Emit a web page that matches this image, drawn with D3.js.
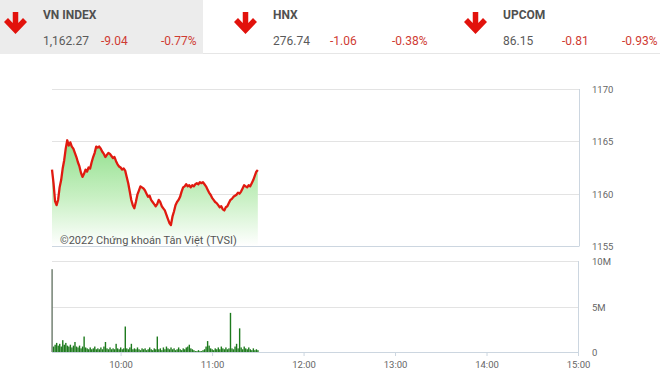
<!DOCTYPE html>
<html><head><meta charset="utf-8">
<script src="https://cdn.jsdelivr.net/npm/d3@7"></script>
<style>
html,body{margin:0;padding:0;background:#fff;}
svg{display:block;font-family:Roboto,"Noto Sans",sans-serif;}
</style></head>
<body><svg id="c" width="660" height="383"></svg>
<script>
// ---- data ----
const indexNames = ["VN INDEX","HNX","UPCOM"];
const indexLast = ["1,162.27","276.74","86.15"];
const indexChange = ["-9.04","-1.06","-0.81"];
const indexPct = ["-0.77%","-0.38%","-0.93%"];

const startTime = "9:15";           // first minute of the session shown
const priceValues = [
1162.3,1161.0,1159.3,1158.9,1159.4,1160.6,1161.3,1162.4,1163.2,1164.3,
1165.1,1164.6,1164.9,1164.5,1164.3,1163.9,1163.5,1163.0,1162.6,1162.0,
1161.6,1161.9,1162.3,1162.1,1162.5,1162.4,1163.0,1163.5,1163.9,1164.5,
1164.4,1164.5,1164.3,1164.0,1163.8,1163.5,1163.7,1163.9,1163.8,1163.6,
1163.4,1163.5,1163.1,1162.8,1162.6,1162.5,1162.3,1162.4,1162.2,1161.6,
1161.0,1160.2,1159.4,1158.9,1158.6,1159.2,1159.9,1160.3,1160.7,1160.6,
1160.5,1160.3,1160.0,1159.7,1159.8,1159.4,1159.2,1159.0,1158.8,1159.0,
1159.4,1159.2,1158.8,1158.6,1158.4,1158.0,1157.6,1157.2,1157.0,1157.8,
1158.3,1158.9,1159.2,1159.4,1159.7,1160.2,1160.6,1160.7,1160.9,1160.7,
1160.8,1160.6,1160.8,1160.7,1160.9,1161.0,1160.9,1161.1,1161.0,1161.1,
1160.9,1160.7,1160.4,1160.1,1159.9,1159.6,1159.4,1159.2,1159.1,1158.9,
1158.7,1158.8,1158.5,1158.4,1158.7,1158.8,1159.1,1159.4,1159.5,1159.7,
1159.8,1159.9,1160.1,1160.0,1160.2,1160.5,1160.8,1160.7,1160.6,1160.8,
1160.7,1161.0,1161.3,1161.7,1162.1,1162.27];
const volumeValues = [ // millions of shares per minute
9.1,0.6,0.8,1.0,0.7,0.9,0.6,1.3,0.8,1.0,
0.7,0.6,0.8,0.5,0.7,1.1,0.6,0.5,0.7,0.4,
0.6,1.7,0.5,0.4,0.3,0.5,0.3,0.4,0.6,0.3,
0.4,0.3,0.5,0.3,0.6,1.1,0.4,0.3,0.5,0.3,
0.4,0.3,0.9,0.4,0.3,0.5,0.3,0.4,2.8,0.4,
0.3,0.5,0.9,0.3,0.4,0.3,0.5,0.3,0.2,0.4,
0.3,0.4,0.2,0.3,0.5,0.3,0.2,0.4,0.3,1.7,
0.3,0.4,0.2,0.5,0.3,0.6,0.4,0.3,0.5,0.3,
0.4,0.2,0.3,0.5,0.3,0.2,0.4,0.3,0.5,0.6,
0.8,0.4,0.3,0.2,0.1,0.1,0.2,0.1,0.1,0.2,
0.3,0.6,1.2,0.7,0.4,0.3,0.2,0.4,0.3,0.5,
0.3,0.6,0.4,0.3,0.5,0.3,0.4,4.3,0.4,0.3,
0.6,0.9,0.4,2.6,0.5,0.3,0.6,0.4,0.3,0.5,
0.3,0.2,0.4,0.2,0.3,0.2];
const priceTicks = [1155,1160,1165,1170];
const volumeTicks = [0,5,10];
const volumeTickLabels = ["0","5M","10M"];
const timeTicks = ["10:00","11:00","12:00","13:00","14:00","15:00"];
const sessionRange = ["9:15","15:00"];

// ---- helpers ----
const toMin = s => { const [h,m] = s.split(":").map(Number); return h*60+m; };
const t0 = toMin(startTime);
const times = priceValues.map((_,i)=>t0+i);

const svg = d3.select("#c");

// ---- header ----
svg.append("rect").attr("x",0).attr("y",0).attr("width",203).attr("height",54).attr("fill","#ececec");
svg.append("line").attr("x1",203).attr("x2",660).attr("y1",53.5).attr("y2",53.5).attr("stroke","#e6e6e6");
const arrowX = [15.5,245.5,475.5];
const titleX = [43,273,503];
const chgX = [101,330,562];
const pctX = [161,392,622];
indexNames.forEach((n,i)=>{
  const g = svg.append("g");
  const ax = arrowX[i];
  g.append("path")
    .attr("d",`M${ax},12 L${ax},29 M${ax-9.5},20 L${ax},30 L${ax+9.5},20`)
    .attr("stroke","#e2120c").attr("stroke-width",5.5).attr("fill","none")
    .attr("stroke-linejoin","miter");
  g.append("text").attr("x",titleX[i]).attr("y",19).attr("font-size",12).attr("font-weight","bold")
    .attr("fill","#505050").attr("textLength", null).text(n);
  g.append("text").attr("x",titleX[i]).attr("y",45).attr("font-size",12).attr("fill","#5a5a5a").text(indexLast[i]);
  g.append("text").attr("x",chgX[i]).attr("y",45).attr("font-size",12).attr("fill","#cf3b33").text(indexChange[i]);
  g.append("text").attr("x",pctX[i]).attr("y",45).attr("font-size",12).attr("fill","#cf3b33").text(indexPct[i]);
});

// ---- scales ----
const x = d3.scaleLinear().domain(sessionRange.map(toMin)).range([52,578]);
const yP = d3.scaleLinear().domain([1155,1170]).range([246,89]);
const yV = d3.scaleLinear().domain([0,10]).range([352,261]);

const gridC = "#e3e3e3", borderC = "#ccd6e0", labC = "#666";

// price grid
priceTicks.forEach(v=>{
  svg.append("line").attr("x1",52).attr("x2",579).attr("y1",Math.round(yP(v))+0.5).attr("y2",Math.round(yP(v))+0.5)
    .attr("stroke", v===1155 ? borderC : gridC);
});
svg.append("line").attr("x1",579.5).attr("x2",579.5).attr("y1",yP(1170)).attr("y2",yP(1155)+0.5).attr("stroke",borderC);
priceTicks.forEach(v=>{
  svg.append("text").attr("x",592).attr("y",yP(v)+4).attr("font-size",9.5).attr("fill",labC).text(v);
});

// price area + line
const defs = svg.append("defs");
const grad = defs.append("linearGradient").attr("id","gf").attr("gradientUnits","userSpaceOnUse")
  .attr("x1",0).attr("x2",0).attr("y1",yP(1165.2)).attr("y2",yP(1155));
grad.append("stop").attr("offset",0).attr("stop-color","#8fdf8a");
grad.append("stop").attr("offset",0.55).attr("stop-color","#c9f0c4");
grad.append("stop").attr("offset",1).attr("stop-color","#ffffff");
const pts = priceValues.map((v,i)=>[times[i],v]);
svg.append("path").datum(pts)
  .attr("d",d3.area().x(d=>x(d[0])).y0(yP(1155)).y1(d=>yP(d[1])))
  .attr("fill","url(#gf)");
svg.append("text").attr("x",60).attr("y",244).attr("font-size",11).attr("fill","#555")
  .text("©2022 Chứng khoán Tân Việt (TVSI)");
svg.append("path").datum(pts)
  .attr("d",d3.line().x(d=>x(d[0])).y(d=>yP(d[1])))
  .attr("fill","none").attr("stroke","#e01a10").attr("stroke-width",2.3).attr("stroke-linejoin","round");

// volume grid
volumeTicks.forEach((v,i)=>{
  svg.append("line").attr("x1",52).attr("x2",578).attr("y1",Math.round(yV(v))+0.5).attr("y2",Math.round(yV(v))+0.5)
    .attr("stroke", v===0 ? borderC : gridC);
  svg.append("text").attr("x",592).attr("y",yV(v)+4).attr("font-size",9.5).attr("fill",labC).text(volumeTickLabels[i]);
});
svg.append("line").attr("x1",578.5).attr("x2",578.5).attr("y1",yV(10)).attr("y2",yV(0)).attr("stroke",borderC);

// volume bars
svg.append("g").selectAll("rect").data(volumeValues).join("rect")
  .attr("x",(d,i)=>x(times[i])-0.6).attr("width",1.4)
  .attr("y",d=>yV(d)).attr("height",d=>yV(0)-yV(d))
  .attr("fill",(d,i)=> i===0 ? "#6b7a6b" : "#1d7a1d");

// time axis
const ax = svg.append("g").attr("transform",`translate(0,${yV(0)})`)
  .call(d3.axisBottom(x).tickValues(timeTicks.map(toMin)).tickSize(4).tickPadding(5)
    .tickFormat((d,i)=>timeTicks[i]));
ax.select(".domain").remove();
ax.selectAll("line").attr("stroke",borderC);
ax.selectAll("text").attr("font-size",9.5).attr("fill",labC).attr("font-family","Roboto,sans-serif");
</script>
</body></html>
